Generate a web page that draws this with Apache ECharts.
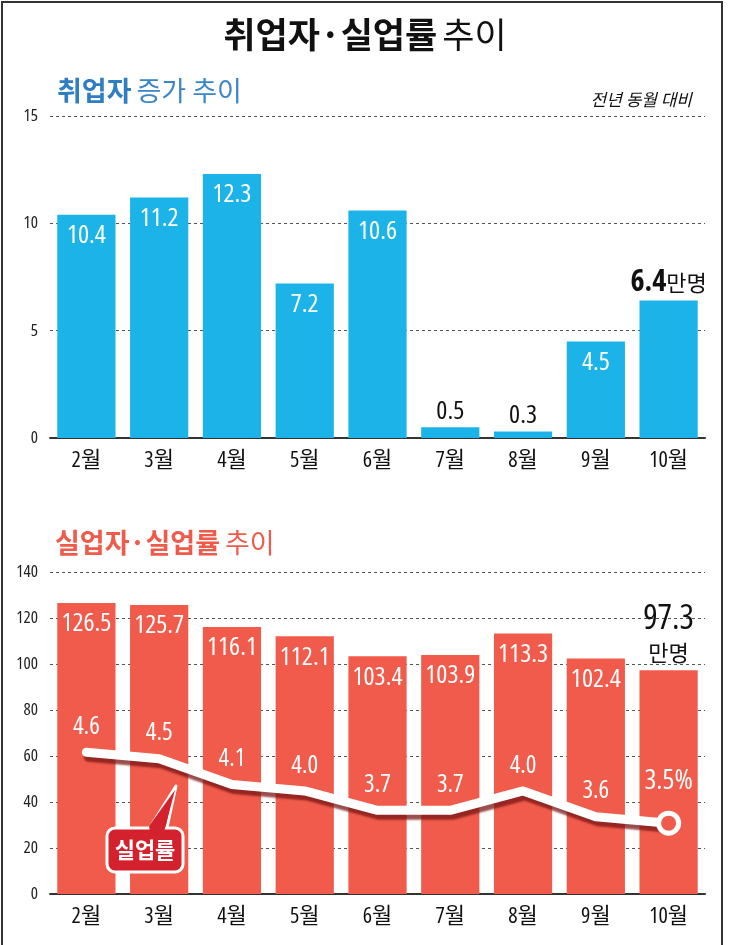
<!DOCTYPE html>
<html><head><meta charset="utf-8">
<script src="https://cdn.jsdelivr.net/npm/echarts@6/dist/echarts.min.js"></script>
<style>html,body{margin:0;padding:0;background:#fff}#c{width:730px;height:945px}</style>
</head><body><div id="c"></div>
<script>
// ---- data ----
const months = ['2월','3월','4월','5월','6월','7월','8월','9월','10월'];
const employedIncrease = [10.4, 11.2, 12.3, 7.2, 10.6, 0.5, 0.3, 4.5, 6.4]; // 만명
const unemployed = [126.5, 125.7, 116.1, 112.1, 103.4, 103.9, 113.3, 102.4, 97.3]; // 만명
const unemploymentRate = [4.6, 4.5, 4.1, 4.0, 3.7, 3.7, 4.0, 3.6, 3.5]; // %
const topAxis = {min: 0, max: 15, interval: 5};
const bottomAxis = {min: 0, max: 140, interval: 20};
const rateAxis = {min: 2.4, max: 7.4};

// ---- pick the narrowest installed font for numbers ----
function detectNum() {
  const ctx = document.createElement('canvas').getContext('2d');
  const s = '126.5';
  function w(font) {
    ctx.font = '10px serif';
    ctx.font = font;
    if (ctx.font === '10px serif') return NaN;
    return ctx.measureText(s).width;
  }
  const base = w('100px monospace');
  const cands = [
    {family: "'Liberation Sans Narrow'", stretch: ''},
    {family: "'DejaVu Sans Condensed'", stretch: ''},
    {family: "'Noto Sans'", stretch: 'condensed'},
    {family: "'DejaVu Sans'", stretch: 'condensed'},
    {family: "'Open Sans'", stretch: 'condensed'},
    {family: "Roboto", stretch: 'condensed'},
    {family: "'Liberation Sans'", stretch: ''},
  ];
  let best = {family: "'Liberation Sans'", stretch: '', width: 250};
  for (const c of cands) {
    const f = (c.stretch ? c.stretch + ' ' : '') + '100px ' + c.family + ', monospace';
    const ww = w(f);
    if (!(ww > 0) || Math.abs(ww - base) < 0.5) continue;
    if (ww < best.width - 0.5) best = Object.assign({}, c, {width: ww});
  }
  return best;
}
const numFont = detectNum();
const NUM = numFont.family + ",'Noto Sans CJK KR',sans-serif";
const STR = numFont.stretch;
const W = b => (b ? 'bold' : 'normal') + (STR ? ' ' + STR : '');
const emW = numFont.width / 100;            // width of "126.5" per px of font size
const BAR_FS = Math.min(26, 55 / emW);      // bar labels fit the bar width
const KR = "'Noto Sans CJK KR',sans-serif";
const BLUE = '#1cb4e8';
const RED = '#f05b4b';
const last = months.length - 1;

const topData = employedIncrease.map((v, i) => {
  const item = {value: v};
  if (i === last) {
    item.label = {position: 'top', distance: 3, formatter: '{n|' + v.toFixed(1) + '}{u|만명}',
      rich: {n: {fontSize: BAR_FS + 4, fontWeight: W(true), color: '#111', fontFamily: NUM},
             u: {fontSize: 22, color: '#111', fontFamily: KR, fontWeight: 'normal'}}};
  } else if (v < 2) {
    item.label = {position: 'top', distance: 3, color: '#111', fontSize: BAR_FS};
  }
  return item;
});

const bottomData = unemployed.map((v, i) => {
  const item = {value: v};
  if (i === last) {
    item.label = {position: 'top', distance: 3, formatter: '{n|' + v.toFixed(1) + '}\n{u|만명}',
      rich: {n: {fontSize: BAR_FS + 8, color: '#111', fontFamily: NUM, fontWeight: W(false), lineHeight: 36, align: 'center'},
             u: {fontSize: 22, color: '#111', fontFamily: KR, fontWeight: 'normal', lineHeight: 30, align: 'center'}}};
  }
  return item;
});

const rateData = unemploymentRate.map((v, i) => {
  const item = {value: v};
  if (i === last) {
    item.label = {fontSize: BAR_FS + 2, distance: 16, formatter: v.toFixed(1) + '%'};
  }
  return item;
});

const gridLine = {show: true, lineStyle: {color: '#555', type: [3, 3], width: 1}};
const xAxisBase = {
  type: 'category', data: months,
  axisTick: {show: false},
  axisLine: {lineStyle: {color: '#333', width: 2}},
  axisLabel: {color: '#111', fontSize: 22, fontFamily: NUM, fontWeight: W(false), margin: 12},
};
const yLabel = {color: '#222', fontSize: 17, fontFamily: NUM, fontWeight: W(false), margin: 12};

const chart = echarts.init(document.getElementById('c'), null, {renderer: 'canvas'});
chart.setOption({
  backgroundColor: '#fff',
  animation: false,
  title: [
    {text: '{b|취업자·실업률} {r|추이}', left: 'center', top: 12,
      textStyle: {rich: {b: {fontSize: 35, fontWeight: 'bold', color: '#111', fontFamily: KR},
                         r: {fontSize: 35, fontWeight: 'normal', color: '#111', fontFamily: KR}}}},
    {text: '{b|취업자} {r|증가 추이}', left: 52, top: 72,
      textStyle: {rich: {b: {fontSize: 27, fontWeight: 'bold', color: '#2f7ec4', fontFamily: KR},
                         r: {fontSize: 27, fontWeight: 'normal', color: '#3a86c9', fontFamily: KR}}}},
    {text: '전년 동월 대비', right: 33, top: 86,
      textStyle: {fontSize: 17, color: '#111', fontFamily: KR, fontWeight: 'normal', fontStyle: 'italic'}},
    {text: '{b|실업자·실업률} {r|추이}', left: 50, top: 524,
      textStyle: {rich: {b: {fontSize: 27, fontWeight: 'bold', color: '#ef5a4a', fontFamily: KR},
                         r: {fontSize: 27, fontWeight: 'normal', color: '#ef5a4a', fontFamily: KR}}}},
  ],
  grid: [
    {left: 50, right: 25, top: 116, height: 322},
    {left: 50, right: 25, top: 572, height: 322},
  ],
  xAxis: [
    Object.assign({gridIndex: 0}, xAxisBase),
    Object.assign({gridIndex: 1}, xAxisBase),
  ],
  yAxis: [
    {gridIndex: 0, type: 'value', min: topAxis.min, max: topAxis.max, interval: topAxis.interval,
      axisLine: {show: false}, axisTick: {show: false}, axisLabel: yLabel, splitLine: gridLine},
    {gridIndex: 1, type: 'value', min: bottomAxis.min, max: bottomAxis.max, interval: bottomAxis.interval,
      axisLine: {show: false}, axisTick: {show: false}, axisLabel: yLabel, splitLine: gridLine},
    {gridIndex: 1, type: 'value', min: rateAxis.min, max: rateAxis.max, show: false, splitLine: {show: false}},
  ],
  series: [
    {type: 'bar', xAxisIndex: 0, yAxisIndex: 0, data: topData, barCategoryGap: '20%',
      itemStyle: {color: BLUE},
      label: {show: true, position: 'insideTop', distance: 8, color: '#fff', fontSize: BAR_FS, fontFamily: NUM,
        fontWeight: W(false), formatter: p => p.value.toFixed(1)}},
    {type: 'bar', xAxisIndex: 1, yAxisIndex: 1, data: bottomData, barCategoryGap: '20%',
      itemStyle: {color: RED},
      label: {show: true, position: 'insideTop', distance: 8, color: '#fff', fontSize: BAR_FS, fontFamily: NUM,
        fontWeight: W(false), formatter: p => p.value.toFixed(1)}},
    {type: 'line', xAxisIndex: 1, yAxisIndex: 2, data: rateData, z: 5,
      symbol: 'circle', symbolSize: (v, p) => p.dataIndex === last ? 20 : 0,
      showAllSymbol: true,
      lineStyle: {color: '#fff', width: 9, cap: 'round', join: 'round',
        shadowColor: 'rgba(120,20,20,0.75)', shadowBlur: 2, shadowOffsetX: 2, shadowOffsetY: 5},
      itemStyle: {color: RED, borderColor: '#fff', borderWidth: 5},
      label: {show: true, position: 'top', distance: 13, color: '#fff', fontSize: BAR_FS - 1, fontFamily: NUM,
        fontWeight: W(false), formatter: p => p.value.toFixed(1)}},
  ],
  graphic: [
    {type: 'rect', z: 100, silent: true, shape: {x: 2, y: 2, width: 720, height: 960},
      style: {fill: 'none', stroke: '#333', lineWidth: 2}},
    {type: 'polygon', z: 101, silent: true, shape: {points: [[147, 832], [176, 786], [166, 832]]},
      style: {fill: '#d3222e', stroke: '#fff', lineWidth: 3, lineJoin: 'round'}},
    {type: 'rect', z: 102, silent: true, shape: {x: 107, y: 828, width: 76, height: 44, r: 8},
      style: {fill: '#d3222e', stroke: '#fff', lineWidth: 3}},
    {type: 'polygon', z: 103, silent: true, shape: {points: [[149, 826], [175, 790], [164, 832], [150, 832]]},
      style: {fill: '#d3222e'}},
    {type: 'text', z: 104, silent: true,
      style: {text: '실업률', x: 145, y: 850, align: 'center', verticalAlign: 'middle',
        fill: '#fff', fontSize: 22, fontWeight: 'bold', fontFamily: KR}},
  ],
});
</script>
</body></html>
